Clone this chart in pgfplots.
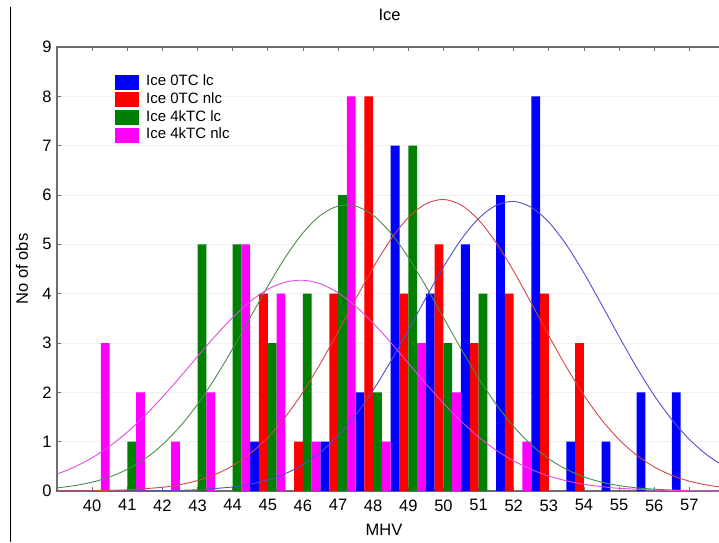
\documentclass[border=0pt]{standalone}
\usepackage{pgfplots}
\pgfplotsset{compat=1.18}
\usepackage{fontspec}
\setmainfont{Liberation Sans}

\definecolor{barblue}{RGB}{0,0,255}
\definecolor{barred}{RGB}{255,0,0}
\definecolor{bargreen}{RGB}{0,128,0}
\definecolor{barmag}{RGB}{255,0,255}
\definecolor{fitblue}{RGB}{80,80,205}
\definecolor{fitred}{RGB}{215,70,70}
\definecolor{fitgreen}{RGB}{75,140,75}
\definecolor{fitmag}{RGB}{225,75,225}
\definecolor{frame}{RGB}{110,110,110}

\begin{document}
\begin{tikzpicture}
% outer frame line on the left
\draw[black, line width=1pt] (10pt,0pt) -- (10pt,534.5pt);
\begin{axis}[
  at={(57pt,51pt)}, anchor=south west,
  scale only axis, width=665pt, height=444pt,
  xmin=39, xmax=57.93, ymin=0, ymax=9,
  xtick={40,...,57}, ytick={0,...,9},
  ytick pos=left,
  tick align=inside,
  major tick length=4pt,
  tick style={frame, line width=0.8pt},
  axis line style={frame, line width=1.2pt},
  ymajorgrids, grid style={gray!12, line width=0.6pt},
  /pgf/number format/assume math mode=true,
  ticklabel style={font=\fontsize{16.5}{19}\selectfont},
  xticklabel style={yshift=-5pt},
  yticklabel style={xshift=-2pt},
  title={Ice},
  title style={at={(axis description cs:0.5,1)}, anchor=center, yshift=26pt,
               font=\fontsize{16.5}{19}\selectfont},
  xlabel={MHV},
  xlabel style={at={(axis description cs:0.4917,0)}, anchor=center, yshift=-39pt,
                font=\fontsize{16.5}{19}\selectfont},
  ylabel={No of obs},
  ylabel style={at={(axis description cs:-0.0526,0.5)}, anchor=center,
                font=\fontsize{16.5}{19}\selectfont},
  legend cell align=left,
  legend image code/.code={\fill[#1] (0pt,-7.5pt) rectangle (24pt,7.5pt);},
  legend style={at={(axis description cs:0.0872,0.9414)}, anchor=north west,
                draw=none, fill=none, inner sep=0pt, column sep=5.5pt, row sep=0pt,
                font=\fontsize{15}{18}\selectfont,
                nodes={inner xsep=1.5pt, inner ysep=1.5pt, text height=11pt, text depth=3.7pt}},
]
% histogram counts, four series per MHV value
\addplot[ybar, bar width=0.25, bar shift=-0.375, fill=barblue, draw=none]
  coordinates {(45,1) (47,1) (48,2) (49,7) (50,4) (51,5) (52,6) (53,8) (54,1) (55,1) (56,2) (57,2)};
\addlegendentry{Ice 0TC lc}
\addplot[ybar, bar width=0.25, bar shift=-0.125, fill=barred, draw=none]
  coordinates {(45,4) (46,1) (47,4) (48,8) (49,4) (50,5) (51,3) (52,4) (53,4) (54,3)};
\addlegendentry{Ice 0TC nlc}
\addplot[ybar, bar width=0.25, bar shift=0.125, fill=bargreen, draw=none]
  coordinates {(41,1) (43,5) (44,5) (45,3) (46,4) (47,6) (48,2) (49,7) (50,3) (51,4)};
\addlegendentry{Ice 4kTC lc}
\addplot[ybar, bar width=0.25, bar shift=0.375, fill=barmag, draw=none]
  coordinates {(40,3) (41,2) (42,1) (43,2) (44,5) (45,4) (46,1) (47,8) (48,1) (49,3) (50,2) (52,1)};
\addlegendentry{Ice 4kTC nlc}

% fitted normal curves
\addplot[smooth, fitblue, line width=0.9pt, forget plot] coordinates {
  (39,0) (40,0.0004) (41,0.002) (42,0.007) (43,0.026) (44,0.082) (44.5,0.138)
  (45,0.224) (45.5,0.353) (46,0.536) (46.5,0.788) (47,1.121) (47.5,1.540)
  (48,2.046) (48.5,2.627) (49,3.258) (49.5,3.913) (50,4.540) (50.5,5.093)
  (51,5.523) (51.5,5.790) (52,5.870) (52.5,5.751) (53,5.449) (53.5,4.990)
  (54,4.418) (54.5,3.783) (55,3.131) (55.5,2.505) (56,1.937) (56.5,1.449)
  (57,1.047) (57.5,0.733) (58,0.495)};
\addplot[smooth, fitred, line width=0.9pt, forget plot] coordinates {
  (39,0.0015) (40,0.0065) (41,0.024) (42,0.076) (42.5,0.129) (43,0.211)
  (43.5,0.335) (44,0.513) (44.5,0.760) (45,1.086) (45.5,1.500) (46,2.005)
  (46.5,2.587) (47,3.227) (47.5,3.889) (48,4.528) (48.5,5.097) (49,5.541)
  (49.5,5.821) (50,5.910) (50.5,5.797) (51,5.496) (51.5,5.034) (52,4.455)
  (52.5,3.810) (53,3.148) (53.5,2.514) (54,1.940) (54.5,1.446) (55,1.043)
  (55.5,0.726) (56,0.488) (56.5,0.317) (57,0.199) (57.5,0.121) (58,0.071)};
\addplot[smooth, fitgreen, line width=0.9pt, forget plot] coordinates {
  (39,0.064) (39.5,0.109) (40,0.180) (40.5,0.285) (41,0.439) (41.5,0.652)
  (42,0.938) (42.5,1.305) (43,1.757) (43.5,2.289) (44,2.885) (44.5,3.518)
  (45,4.150) (45.5,4.737) (46,5.231) (46.5,5.588) (47,5.776) (47.5,5.776)
  (48,5.588) (48.5,5.231) (49,4.737) (49.5,4.150) (50,3.518) (50.5,2.885)
  (51,2.289) (51.5,1.757) (52,1.305) (52.5,0.938) (53,0.652) (53.5,0.439)
  (54,0.285) (54.5,0.180) (55,0.109) (55.5,0.064) (56,0.037) (56.5,0.020)
  (57,0.011) (58,0.003)};
\addplot[smooth, fitmag, line width=0.9pt, forget plot] coordinates {
  (39,0.342) (39.5,0.487) (40,0.674) (40.5,0.908) (41,1.194) (41.5,1.526)
  (42,1.902) (42.5,2.307) (43,2.727) (43.5,3.139) (44,3.519) (44.5,3.843)
  (45,4.088) (45.5,4.234) (46,4.273) (46.5,4.199) (47,4.019) (47.5,3.747)
  (48,3.403) (48.5,3.009) (49,2.592) (49.5,2.175) (50,1.778) (50.5,1.415)
  (51,1.097) (51.5,0.828) (52,0.609) (52.5,0.436) (53,0.304) (53.5,0.207)
  (54,0.137) (54.5,0.088) (55,0.055) (56,0.020) (57,0.007) (58,0.002)};
\end{axis}
\pgfresetboundingbox
\path[use as bounding box] (0pt,0pt) rectangle (719pt,542pt);
\end{tikzpicture}
\end{document}
